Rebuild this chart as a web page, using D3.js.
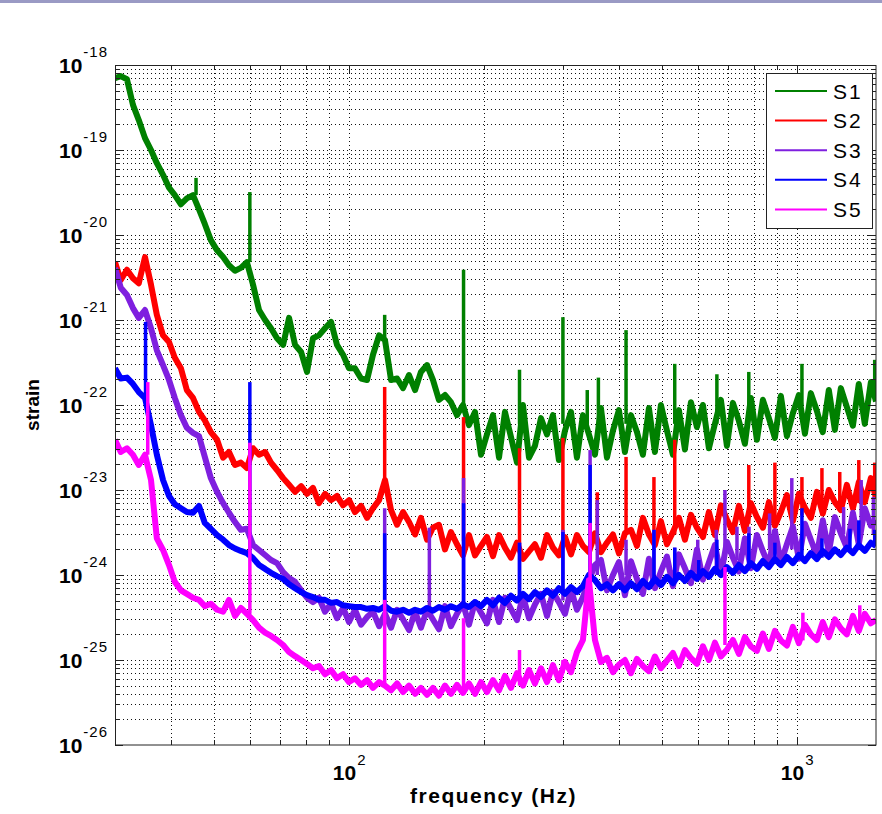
<!DOCTYPE html>
<html>
<head>
<meta charset="utf-8">
<script src="https://cdn.jsdelivr.net/npm/d3@7"></script>
<style>
body { margin: 0; background: #fff; }
text { font-family: "Liberation Sans", Arial, Helvetica, sans-serif; }
</style>
</head>
<body>
<div id="chart"></div>
<script>
const freqs = [
  30, 30.9, 31.9, 32.9, 33.9, 35, 36.1, 37.2, 38.4, 39.6,
  40.8, 42.1, 43.4, 44.8, 46.2, 47.6, 49.1, 50.7, 52.3, 53.9,
  55.6, 57.3, 59.1, 61, 62.9, 64.9, 66.9, 69, 71.2, 73.4,
  75.7, 78.1, 80.5, 83, 85.6, 88.3, 91.1, 93.9, 96.9, 99.9,
  103, 106.3, 109.6, 113, 116.6, 120.2, 124, 127.9, 131.9, 136,
  140.3, 144.6, 149.2, 153.8, 158.6, 163.6, 168.7, 174, 179.5, 185.1,
  190.9, 196.9, 203, 209.4, 216, 222.7, 229.7, 236.9, 244.3, 252,
  259.8, 268, 276.4, 285, 293.9, 303.2, 312.7, 322.4, 332.5, 342.9,
  353.7, 364.8, 376.2, 388, 400.1, 412.6, 425.6, 438.9, 452.6, 466.8,
  481.4, 496.5, 512.1, 528.1, 544.6, 561.7, 579.3, 597.4, 616.1, 635.4,
  655.3, 675.8, 697, 718.8, 741.3, 764.5, 788.5, 813.2, 838.6, 864.9,
  892, 919.9, 948.7, 978.4, 1009, 1041, 1073, 1107, 1141, 1177,
  1214, 1252, 1291, 1332, 1373, 1416, 1461, 1500
]

// strain per run, one value per frequency above
const s1 = [
  7.0e-19, 7.4e-19, 6.8e-19, 3.4e-19, 2.25e-19, 1.38e-19, 1.0e-19, 7.0e-20, 5.1e-20, 3.6e-20,
  2.95e-20, 2.3e-20, 2.7e-20, 2.95e-20, 2.0e-20, 1.35e-20, 8.7e-21, 6.6e-21, 5.5e-21, 4.4e-21,
  3.8e-21, 4.1e-21, 4.8e-21, 2.6e-21, 1.31e-21, 1.0e-21, 8.0e-22, 6.1e-22, 5.1e-22, 1.06e-21,
  5.1e-22, 4.2e-22, 2.45e-22, 6.1e-22, 6.6e-22, 8.0e-22, 9.5e-22, 5.1e-22, 3.9e-22, 2.7e-22,
  2.7e-22, 2.05e-22, 1.97e-22, 3.9e-22, 6.6e-22, 5.8e-22, 1.97e-22, 2.05e-22, 1.58e-22, 2.25e-22,
  1.5e-22, 2.45e-22, 2.95e-22, 1.97e-22, 1.15e-22, 1.31e-22, 1.08e-22, 7.6e-23, 1.0e-22, 5.8e-23,
  8.3e-23, 2.6e-23, 4.5e-23, 7.6e-23, 2.4e-23, 8.3e-23, 4.2e-23, 2.1e-23, 1.0e-22, 2.4e-23,
  3.3e-23, 7.0e-23, 4.5e-23, 7.6e-23, 2.25e-23, 5.0e-23, 8.3e-23, 2.4e-23, 7.6e-23, 4.5e-23,
  2.6e-23, 9.2e-23, 2.4e-23, 5.0e-23, 8.7e-23, 2.8e-23, 7.6e-23, 4.8e-23, 2.6e-23, 9.2e-23,
  2.8e-23, 1.0e-22, 5.0e-23, 2.6e-23, 8.7e-23, 3.0e-23, 1.08e-22, 5.5e-23, 1.0e-22, 3.1e-23,
  6.0e-23, 1.15e-22, 3.3e-23, 1.06e-22, 6.5e-23, 3.5e-23, 1.21e-22, 3.9e-23, 1.15e-22, 7.0e-23,
  4.1e-23, 1.28e-22, 4.3e-23, 8.0e-23, 1.31e-22, 4.6e-23, 1.38e-22, 8.5e-23, 4.8e-23, 1.5e-22,
  5.1e-23, 1.58e-22, 9.5e-23, 5.7e-23, 1.77e-22, 6.0e-23, 1.86e-22, 1.1e-22
]
const s2 = [
  4.8e-21, 2.95e-21, 3.9e-21, 3.1e-21, 2.7e-21, 5.5e-21, 2.6e-21, 1.15e-21, 6.6e-22, 5.5e-22,
  3.6e-22, 2.7e-22, 1.5e-22, 1.21e-22, 8.3e-23, 6.6e-23, 4.8e-23, 3.9e-23, 2.4e-23, 2.8e-23,
  1.97e-23, 2.1e-23, 1.81e-23, 3.1e-23, 2.6e-23, 2.8e-23, 2.1e-23, 1.72e-23, 1.38e-23, 1.15e-23,
  9.5e-24, 1.11e-23, 9.0e-24, 1.06e-23, 7.0e-24, 9.0e-24, 7.6e-24, 8.5e-24, 6.6e-24, 7.6e-24,
  5.5e-24, 6.5e-24, 4.7e-24, 6.1e-24, 7.6e-24, 1.31e-23, 5.8e-24, 3.9e-24, 5.5e-24, 4.2e-24,
  3.0e-24, 4.7e-24, 2.6e-24, 3.6e-24, 3.9e-24, 2.0e-24, 3.2e-24, 2.3e-24, 1.7e-24, 2.95e-24,
  1.7e-24, 2.2e-24, 2.8e-24, 1.67e-24, 2.95e-24, 2.1e-24, 1.6e-24, 2.4e-24, 1.55e-24, 1.9e-24,
  2.3e-24, 1.6e-24, 2.95e-24, 2.1e-24, 1.7e-24, 2.8e-24, 1.75e-24, 2.95e-24, 2.2e-24, 1.86e-24,
  3.1e-24, 1.86e-24, 2.4e-24, 3.0e-24, 1.8e-24, 3.1e-24, 3.4e-24, 2.2e-24, 4.7e-24, 3.0e-24,
  2.25e-24, 4.3e-24, 2.3e-24, 3.2e-24, 4.7e-24, 2.6e-24, 5.1e-24, 3.6e-24, 2.8e-24, 5.5e-24,
  2.95e-24, 6.6e-24, 4.5e-24, 3.2e-24, 6.5e-24, 3.3e-24, 7.0e-24, 4.8e-24, 3.6e-24, 7.2e-24,
  3.8e-24, 5.5e-24, 8.7e-24, 4.3e-24, 9.0e-24, 6.2e-24, 4.7e-24, 9.5e-24, 5.3e-24, 1.0e-23,
  7.2e-24, 5.8e-24, 1.15e-23, 6.1e-24, 1.24e-23, 7.2e-24, 1.38e-23, 8.0e-24
]
const s3 = [
  4.1e-21, 2.4e-21, 1.97e-21, 1.38e-21, 1.06e-21, 1.31e-21, 8.0e-22, 4.4e-22, 2.95e-22, 1.97e-22,
  1.21e-22, 7.6e-23, 5.4e-23, 4.7e-23, 4.3e-23, 2.45e-23, 1.38e-23, 9.5e-24, 7.0e-24, 5.4e-24,
  4.2e-24, 3.4e-24, 3.5e-24, 2.25e-24, 1.97e-24, 1.72e-24, 1.5e-24, 1.38e-24, 1.08e-24, 9.2e-25,
  8.3e-25, 6.6e-25, 5.4e-25, 4.8e-25, 5.4e-25, 3.7e-25, 4.6e-25, 3.1e-25, 4.1e-25, 2.8e-25,
  3.9e-25, 2.6e-25, 3.2e-25, 3.7e-25, 2.5e-25, 3.5e-25, 2.4e-25, 3.9e-25, 3.0e-25, 2.25e-25,
  3.7e-25, 2.4e-25, 3.9e-25, 3.0e-25, 2.3e-25, 4.3e-25, 2.5e-25, 3.5e-25, 4.6e-25, 2.6e-25,
  4.8e-25, 3.6e-25, 2.7e-25, 5.1e-25, 2.8e-25, 5.4e-25, 4.0e-25, 2.95e-25, 5.7e-25, 3.1e-25,
  4.5e-25, 6.0e-25, 3.3e-25, 6.3e-25, 4.8e-25, 3.5e-25, 6.8e-25, 3.9e-25, 5.5e-25, 8.7e-25,
  1.31e-24, 1.5e-24, 6.6e-25, 1.0e-24, 1.42e-24, 5.8e-25, 1.45e-24, 9.0e-25, 6.0e-25, 1.55e-24,
  7.0e-25, 1.1e-24, 1.65e-24, 7.4e-25, 1.75e-24, 1.2e-24, 8.0e-25, 2.0e-24, 8.8e-25, 1.4e-24,
  2.25e-24, 1.0e-24, 2.45e-24, 1.6e-24, 1.1e-24, 2.7e-24, 1.2e-24, 2.95e-24, 1.9e-24, 1.3e-24,
  3.3e-24, 1.4e-24, 2.3e-24, 3.7e-24, 1.55e-24, 4.0e-24, 2.6e-24, 1.7e-24, 4.4e-24, 1.85e-24,
  4.8e-24, 3.1e-24, 2.1e-24, 5.4e-24, 2.3e-24, 6.1e-24, 3.8e-24, 4.4e-24
]
const s4 = [
  2.7e-22, 2.05e-22, 2.1e-22, 1.77e-22, 1.42e-22, 1.21e-22, 5.8e-23, 2.6e-23, 1.31e-23, 8.5e-24,
  6.8e-24, 6.1e-24, 5.5e-24, 5.4e-24, 6.5e-24, 4.1e-24, 3.5e-24, 2.95e-24, 2.6e-24, 2.25e-24,
  2.05e-24, 1.92e-24, 1.81e-24, 1.58e-24, 1.31e-24, 1.18e-24, 1.06e-24, 9.7e-25, 9.0e-25, 7.8e-25,
  7.0e-25, 6.3e-25, 5.8e-25, 5.5e-25, 5.1e-25, 5.1e-25, 4.7e-25, 4.8e-25, 4.4e-25, 4.3e-25,
  4.2e-25, 4.2e-25, 4.0e-25, 4.1e-25, 3.9e-25, 4.3e-25, 3.8e-25, 3.7e-25, 3.9e-25, 3.6e-25,
  3.9e-25, 3.7e-25, 4.1e-25, 3.8e-25, 4.2e-25, 3.9e-25, 4.3e-25, 4.0e-25, 4.5e-25, 4.2e-25,
  4.8e-25, 4.3e-25, 5.1e-25, 4.4e-25, 5.4e-25, 4.7e-25, 5.7e-25, 5.0e-25, 6.0e-25, 5.2e-25,
  6.3e-25, 5.5e-25, 6.6e-25, 5.7e-25, 7.0e-25, 6.0e-25, 7.2e-25, 6.3e-25, 7.4e-25, 1.0e-24,
  8.7e-25, 7.0e-25, 7.8e-25, 6.6e-25, 7.8e-25, 6.6e-25, 8.0e-25, 6.8e-25, 8.5e-25, 7.2e-25,
  9.0e-25, 7.6e-25, 9.5e-25, 8.0e-25, 1.0e-24, 8.5e-25, 1.06e-24, 9.0e-25, 1.11e-24, 9.5e-25,
  1.18e-24, 1.0e-24, 1.24e-24, 1.06e-24, 1.31e-24, 1.11e-24, 1.38e-24, 1.18e-24, 1.46e-24, 1.24e-24,
  1.54e-24, 1.31e-24, 1.63e-24, 1.38e-24, 1.72e-24, 1.46e-24, 1.81e-24, 1.54e-24, 1.92e-24, 1.63e-24,
  2.0e-24, 1.72e-24, 2.1e-24, 1.81e-24, 2.25e-24, 1.92e-24, 2.4e-24, 2.2e-24
]
const s5 = [
  3.9e-23, 2.8e-23, 3.1e-23, 2.6e-23, 1.97e-23, 2.6e-23, 1.31e-23, 2.7e-24, 1.97e-24, 1.31e-24,
  8.3e-25, 6.6e-25, 6.0e-25, 5.4e-25, 5.1e-25, 4.3e-25, 4.6e-25, 3.9e-25, 3.7e-25, 5.1e-25,
  3.3e-25, 4.1e-25, 3.5e-25, 2.95e-25, 2.4e-25, 2.1e-25, 1.92e-25, 1.72e-25, 1.5e-25, 1.24e-25,
  1.11e-25, 1.0e-25, 9.0e-26, 8.0e-26, 8.5e-26, 6.8e-26, 7.6e-26, 6.1e-26, 6.8e-26, 5.5e-26,
  6.1e-26, 5.1e-26, 5.8e-26, 4.7e-26, 5.5e-26, 5.0e-26, 4.4e-26, 5.3e-26, 4.2e-26, 5.0e-26,
  4.0e-26, 4.7e-26, 3.9e-26, 4.7e-26, 3.8e-26, 5.0e-26, 4.0e-26, 5.1e-26, 4.1e-26, 5.3e-26,
  4.0e-26, 5.5e-26, 4.2e-26, 5.8e-26, 4.4e-26, 6.5e-26, 4.7e-26, 7.0e-26, 5.0e-26, 7.6e-26,
  5.3e-26, 8.0e-26, 5.5e-26, 8.7e-26, 5.8e-26, 9.5e-26, 7.2e-26, 1.24e-25, 1.72e-25, 8.7e-25,
  1.72e-25, 9.5e-26, 1.06e-25, 7.2e-26, 8.8e-26, 1.0e-25, 7.0e-26, 1.03e-25, 8.5e-26, 7.4e-26,
  1.1e-25, 8.0e-26, 9.8e-26, 1.21e-25, 8.5e-26, 1.31e-25, 1.05e-25, 9.0e-26, 1.45e-25, 1.0e-25,
  1.6e-25, 1.1e-25, 1.32e-25, 1.72e-25, 1.18e-25, 1.86e-25, 1.45e-25, 1.28e-25, 2.05e-25, 1.35e-25,
  2.2e-25, 1.7e-25, 1.48e-25, 2.45e-25, 1.58e-25, 2.6e-25, 2.0e-25, 1.72e-25, 2.8e-25, 1.86e-25,
  3.0e-25, 2.35e-25, 2.0e-25, 3.3e-25, 2.2e-25, 3.5e-25, 2.7e-25, 2.95e-25
]

// narrow lines: [frequency, strain at foot, strain at top]
const lines1 = [[45.5, 2.95e-20, 4.7e-20], [60, 4.8e-21, 3.2e-20], [120, 5.8e-22, 1.15e-21],
  [180, 1.0e-22, 3.9e-21], [240, 6e-23, 2.6e-22], [300, 6e-23, 1.08e-21], [340, 5e-23, 1.5e-22],
  [360, 5e-23, 2.1e-22], [415, 6e-23, 7.6e-22], [533, 6e-23, 3.05e-22], [662, 6e-23, 2.3e-22],
  [780, 8e-23, 2.45e-22], [1025, 1e-22, 3.05e-22], [1490, 1.3e-22, 3.4e-22]]
const lines2 = [[120, 1.31e-23, 1.63e-22], [180, 2.5e-24, 7.2e-23], [240, 2e-24, 3.1e-23],
  [300, 2.5e-24, 4.1e-23], [358, 3e-24, 9.4e-24], [415, 3e-24, 2.45e-23], [479, 3e-24, 1.42e-23],
  [533, 3e-24, 3.9e-23], [780, 4e-24, 1.97e-23], [892, 4e-24, 2.1e-23], [1025, 5e-24, 1.42e-23],
  [1136, 5e-24, 1.81e-23], [1245, 6e-24, 1.63e-23], [1373, 7e-24, 2.25e-23], [1490, 8e-24, 2.1e-23]]
const lines3 = [[120, 3.5e-25, 6.1e-24], [151, 3.5e-25, 3.6e-24], [180, 4e-25, 1.38e-23],
  [240, 5e-25, 2.4e-24], [300, 5e-25, 3.4e-24], [345, 8.7e-25, 2.95e-23], [358, 1e-24, 7.6e-24],
  [415, 1e-24, 2.6e-24], [479, 1e-24, 3.4e-24], [533, 1e-24, 2.1e-24], [600, 1e-24, 2.6e-24],
  [660, 1.2e-24, 3.4e-24], [690, 1.5e-24, 1.0e-23], [734, 1.5e-24, 3.7e-24], [781, 1.6e-24, 3.7e-24],
  [868, 2e-24, 5.3e-24], [973, 2e-24, 1.38e-23], [1270, 3e-24, 6.3e-24], [1390, 3e-24, 1.31e-23],
  [1480, 3e-24, 8.3e-24]]
const lines4 = [[35.1, 1.21e-22, 9.5e-22], [60, 1.8e-24, 1.86e-22], [120, 4e-25, 3.1e-24],
  [180, 4.5e-25, 7.0e-24], [240, 5.5e-25, 2.4e-24], [300, 6e-25, 3.2e-24], [345, 1e-24, 1.97e-23],
  [479, 8e-25, 3.4e-24], [533, 8.5e-25, 2.1e-24], [603, 9e-25, 1.5e-24], [662, 1e-24, 2.6e-24],
  [780, 1.2e-24, 3.1e-24], [892, 1.4e-24, 2.4e-24], [1025, 1.5e-24, 6.1e-24], [1136, 1.6e-24, 2.7e-24],
  [1312, 1.9e-24, 3.5e-24], [1373, 2e-24, 4.4e-24], [1490, 2.2e-24, 3.4e-24]]
const lines5 = [[35.5, 2.6e-23, 1.86e-22], [60, 3.5e-25, 3.6e-23], [120, 5e-26, 5.1e-25],
  [180, 4.5e-26, 3.1e-25], [240, 5e-26, 1.31e-25], [300, 7e-26, 1.0e-25], [345, 8.7e-25, 4.1e-24],
  [690, 1.5e-25, 1.24e-24], [1030, 1.7e-25, 3.6e-25], [1380, 2.2e-25, 4.4e-25]]

const names = ['S1', 'S2', 'S3', 'S4', 'S5']
const colors = ['#008000', '#ff0000', '#7f1fdf', '#0000ff', '#ff00ff']
const seriesValues = [s1, s2, s3, s4, s5]
const seriesLines = [lines1, lines2, lines3, lines4, lines5]

const xMajor = [100, 1000]
const yExponents = [-18, -19, -20, -21, -22, -23, -24, -25, -26]

let dimensions = {
    width: 882,
    height: 814,
    margin: { top: 65, bottom: 69, left: 115, right: 6 }
}

const svg = d3.select('#chart')
    .append('svg')
    .attr('width', dimensions.width)
    .attr('height', dimensions.height)

// strip along the top edge
svg.append('rect')
    .attr('x', 0).attr('y', 0)
    .attr('width', dimensions.width).attr('height', 3)
    .attr('fill', '#9a9ac4')

const w = dimensions.width - dimensions.margin.left - dimensions.margin.right
const h = dimensions.height - dimensions.margin.top - dimensions.margin.bottom

const container = svg.append('g')
    .attr('transform', `translate(${dimensions.margin.left},${dimensions.margin.top})`)

const xScale = d3.scaleLog().domain([30, 1500]).range([0, w])
const yScale = d3.scaleLog().domain([1e-26, 1e-18]).range([h, 0])

// minor + major positions
const xTicks = []
;[10, 100, 1000].forEach(d => {
    for (let k = 1; k < 10; k++) {
        const v = d * k
        if (v > 30 && v < 1500) xTicks.push(v)
    }
})
const yTicks = []
for (let e = -26; e < -18; e++) {
    for (let k = 1; k < 10; k++) yTicks.push(k * Math.pow(10, e))
}
yTicks.push(1e-18)

const px = v => Math.round(v) + 0.5

// Grid
container.append('g')
    .selectAll('line')
    .data(xTicks)
    .join('line')
    .attr('x1', d => px(xScale(d))).attr('x2', d => px(xScale(d)))
    .attr('y1', 0).attr('y2', h)
    .attr('stroke', '#111')
    .attr('stroke-width', 1)
    .attr('stroke-dasharray', '1,3')

container.append('g')
    .selectAll('line')
    .data(yTicks.filter(d => d > 1e-26 && d < 1e-18))
    .join('line')
    .attr('x1', 0).attr('x2', w)
    .attr('y1', d => px(yScale(d))).attr('y2', d => px(yScale(d)))
    .attr('stroke', '#111')
    .attr('stroke-width', 1)
    .attr('stroke-dasharray', '1,3')

// Data
container.append('clipPath').attr('id', 'plot-clip')
    .append('rect').attr('width', w).attr('height', h)

const plot = container.append('g').attr('clip-path', 'url(#plot-clip)')

const line = d3.line()
    .x((d, i) => xScale(freqs[i]))
    .y(d => yScale(d))

seriesValues.forEach((vals, s) => {
    plot.append('path')
        .datum(vals)
        .attr('d', line)
        .attr('fill', 'none')
        .attr('stroke', colors[s])
        .attr('stroke-width', 6)
        .attr('stroke-linejoin', 'round')

    plot.append('g')
        .selectAll('line')
        .data(seriesLines[s])
        .join('line')
        .attr('x1', d => xScale(d[0])).attr('x2', d => xScale(d[0]))
        .attr('y1', d => yScale(d[1])).attr('y2', d => yScale(d[2]))
        .attr('stroke', colors[s])
        .attr('stroke-width', 3.5)
})

// Box and inside ticks
const isDecade = d => Math.abs(Math.log10(d) - Math.round(Math.log10(d))) < 1e-9
const tickLen = d => isDecade(d) ? 8 : 5

const ticks = container.append('g').attr('stroke', '#222').attr('stroke-width', 1)
xTicks.forEach(d => {
    const x = px(xScale(d))
    ticks.append('line').attr('x1', x).attr('x2', x).attr('y1', h).attr('y2', h - tickLen(d))
    ticks.append('line').attr('x1', x).attr('x2', x).attr('y1', 0).attr('y2', tickLen(d))
})
yTicks.forEach(d => {
    const y = px(yScale(d))
    ticks.append('line').attr('x1', 0).attr('x2', tickLen(d)).attr('y1', y).attr('y2', y)
    ticks.append('line').attr('x1', w).attr('x2', w - tickLen(d)).attr('y1', y).attr('y2', y)
})

container.append('rect')
    .attr('x', 0.5).attr('y', 0.5)
    .attr('width', w - 0.5).attr('height', h - 0.5)
    .attr('fill', 'none')
    .attr('stroke', '#222')
    .attr('stroke-width', 1)

// Tick labels
container.append('g')
    .selectAll('text')
    .data(yExponents)
    .join('text')
    .attr('x', -7)
    .attr('y', d => yScale(Math.pow(10, d)) + 7.5)
    .attr('text-anchor', 'end')
    .each(function (d) {
        const t = d3.select(this)
        t.append('tspan').attr('font-size', '21px').attr('font-weight', 'bold').text('10')
        t.append('tspan').attr('font-size', '15px').attr('letter-spacing', '1px')
            .attr('dx', 1).attr('dy', -16).text(d)
    })

container.append('g')
    .selectAll('text')
    .data(xMajor)
    .join('text')
    .attr('x', d => xScale(d))
    .attr('y', h + 35)
    .attr('text-anchor', 'middle')
    .each(function (d) {
        const t = d3.select(this)
        t.append('tspan').attr('font-size', '21px').attr('font-weight', 'bold').text('10')
        t.append('tspan').attr('font-size', '15px').attr('dx', 1).attr('dy', -15).text(Math.log10(d))
    })

// Axis titles
container.append('text')
    .attr('x', w / 2 - 2)
    .attr('y', h + 58)
    .attr('font-size', '21px')
    .attr('font-weight', 'bold')
    .attr('letter-spacing', '1.5px')
    .attr('text-anchor', 'middle')
    .text('frequency (Hz)')

container.append('text')
    .attr('x', -340)
    .attr('y', -76)
    .attr('font-size', '19px')
    .attr('font-weight', 'bold')
    .attr('text-anchor', 'middle')
    .attr('transform', 'rotate(-90)')
    .text('strain')

// Legend
const legend = container.append('g')
    .attr('transform', `translate(${w - 110},8)`)

legend.append('rect')
    .attr('x', 0.5).attr('y', 0.5)
    .attr('width', 106).attr('height', 155)
    .attr('fill', '#fff')
    .attr('stroke', '#222')

names.forEach((n, i) => {
    const y = 18 + i * 29.6
    legend.append('line')
        .attr('x1', 9).attr('x2', 61)
        .attr('y1', y).attr('y2', y)
        .attr('stroke', colors[i])
        .attr('stroke-width', 2)
    legend.append('text')
        .attr('x', 67)
        .attr('y', y + 7.5)
        .attr('font-size', '21px')
        .attr('letter-spacing', '2px')
        .text(n)
})
</script>
</body>
</html>
